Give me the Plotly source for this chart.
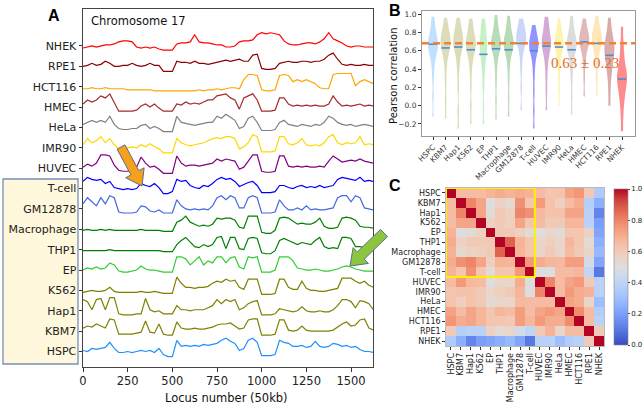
import math
import plotly.graph_objects as go

W, H = 644, 408

# ---------------- Panel A data (signal level 0..10) ----------------
LOCI = list(range(0, 1626, 25))
TRACK_NAMES = ["NHEK", "RPE1", "HCT116", "HMEC", "HeLa", "IMR90", "HUVEC", "T-cell",
               "GM12878", "Macrophage", "THP1", "EP", "K562", "Hap1", "KBM7", "HSPC"]
TRACK_COLORS = ["#ff0000", "#8b0000", "#ffa500", "#a52a2a", "#808080", "#ffd700", "#800080", "#0000ff",
                "#4169e1", "#008000", "#008000", "#32cd32", "#808000", "#808000", "#808000", "#1e90ff"]

NHEK = [1.5, 2, 2.5, 2, 2.5, 3, 3, 3.5, 4.5, 5,
        5, 4.5, 2, 1.5, 2, 1.5, 2, 1, 0.5, 0.5,
        0.5, 3.5, 4, 4, 4.5, 8, 4.5, 4, 4, 3.5,
        3, 3, 2, 2, 2.5, 4.5, 5, 5, 5.5, 8,
        9, 8.5, 9, 8.5, 8, 5, 3.5, 3, 3, 3.5,
        4, 4, 3.5, 4.5, 6, 9, 6, 5, 4, 2.5,
        2, 2.5, 2.5, 2, 2, 2]
RPE1 = [2.5, 3, 4, 3, 3.5, 5, 4, 2.5, 2.5, 3,
        3, 4, 3, 2.5, 3, 4, 3, 3, 0, 0,
        0, 5, 4.5, 4.5, 4, 5, 4, 4, 3.5, 4,
        4.5, 5, 5.5, 5, 5.5, 6, 5, 5, 8, 8.5,
        1.5, 1, 1, 1.5, 4, 4.5, 5, 4.5, 4.5, 5,
        5, 4.5, 5, 5, 6, 8, 9, 6, 3.5, 3,
        3.5, 3, 3, 3.5, 3, 3]
HCT116 = [1.5, 1.5, 2, 1.5, 1.5, 2, 1.5, 1.5, 1.5, 1.5,
          1, 1, 1, 1, 1, 1, 0.5, 0.5, 0.5, 0.5,
          0.5, 0.5, 0.5, 0.5, 0.5, 0.5, 1, 0.5, 1, 1,
          1.5, 1, 1.5, 2, 2, 1.5, 6, 8.5, 8.5, 8,
          1, 0.5, 0.5, 1, 8, 8.5, 8, 5, 6, 5,
          6, 5, 4, 2, 1.5, 1.5, 8.5, 9, 9, 9,
          9, 3, 5, 6, 5, 4]
HMEC = [4, 6, 5, 6, 8, 7, 9, 5, 0.5, 0.5,
        0.5, 0.5, 1, 3, 4, 2.5, 4, 2, 0.5, 0.5,
        0.5, 4, 3.5, 5, 4, 4.5, 4, 5, 6, 6,
        8, 8.5, 9, 7, 6, 1.5, 7, 8, 9, 6,
        0.5, 0.5, 0.5, 1, 7, 7, 4, 3, 3.5, 3,
        3.5, 3, 3.5, 3, 3, 4, 8, 5, 3, 3.5,
        3, 3.5, 4, 3, 3.5, 3]
HELA = [4, 5, 6, 5, 6, 5, 8, 4, 2, 1.5,
        1.5, 2, 2, 3.5, 4, 2, 3, 2, 0.5, 0.5,
        0.5, 8, 5, 4.5, 4, 3.5, 4, 4.5, 5, 5,
        8, 7, 9, 7.5, 6, 2, 3, 7, 8, 5,
        1, 1, 1, 1.5, 5, 6, 4, 3.5, 3, 4,
        3.5, 3, 4, 3.5, 5, 8, 7, 5, 4, 3.5,
        4, 3, 3.5, 4, 3.5, 3]
IMR90 = [4, 7, 5, 6, 8, 5, 7, 4, 2, 2,
         2.5, 3, 2.5, 4, 3, 4.5, 3, 2, 0, 0,
         0, 7, 5, 4, 3.5, 4, 4.5, 5, 6, 7,
         7.5, 7, 8, 8, 7, 2, 3, 5, 9, 8,
         0.5, 0.5, 0.5, 1, 8, 8, 4.5, 4, 5, 7,
         4, 3.5, 4, 3.5, 5, 8, 9, 5, 4, 5,
         4.5, 5, 8, 4, 4.5, 4]
HUVEC = [3, 4.5, 3.5, 5, 9, 9, 8.5, 4, 1.5, 1,
         1, 1.5, 3, 8, 5, 3, 3.5, 2, 0, 0,
         0, 8.5, 5, 3.5, 4, 4, 3.5, 4, 4.5, 5,
         7, 6, 7, 6.5, 6, 2, 3, 6, 9, 9,
         1, 0.5, 0.5, 1, 8.5, 8.5, 3.5, 3, 3.5, 3,
         3.5, 3, 3, 3.5, 3, 6, 8.5, 7, 5.5, 6,
         6.5, 6, 7, 6, 5.5, 5]
TCELL = [6, 8, 7, 6.5, 7, 5, 6, 3, 2.5, 2,
         2.5, 2, 2.5, 5, 4, 3.5, 5, 3, 0, 0,
         1, 7, 6, 6.5, 4, 3, 2.5, 4, 3.5, 5,
         7, 8, 7, 7.5, 6, 3.5, 4.5, 5.5, 6, 4,
         0.5, 0.5, 0.5, 1, 4, 4, 3, 2.5, 3.5, 4,
         3, 3.5, 3, 4, 3, 3.5, 4, 7, 8, 7.5,
         7, 6.5, 8, 6, 6.5, 6]
GM12878 = [5, 8, 6, 4, 8, 5, 9, 8, 1, 0.5,
           0.5, 0.5, 1, 4, 3.5, 1.5, 1, 2, 0.5, 0.5,
           0.5, 7, 4, 2.5, 2, 2.5, 2, 2.5, 2, 4,
           8, 9, 7, 9, 8, 3, 3, 8, 9, 8,
           0.5, 0.5, 0.5, 1, 7, 4, 2, 2, 3, 2,
           4, 2, 2.5, 2, 2, 2.5, 3, 8, 9, 9,
           6, 9, 8, 3, 2.5, 2]
MACROPHAGE = [2, 2.5, 2, 2, 2.5, 2, 2.5, 2, 2, 2,
              2, 2, 2, 2.5, 2, 2, 2, 2, 1.5, 1.5,
              1.5, 6, 7, 9, 6, 5, 4, 4.5, 4, 5,
              8, 7.5, 8, 8, 7, 3.5, 3, 9, 9, 9,
              1, 0.5, 0.5, 2, 8, 8.5, 8, 6.5, 5, 5.5,
              5, 5, 6, 8, 4, 3, 3, 3.5, 8, 8.5,
              8, 7, 4, 3.5, 3.5, 3]
THP1 = [2, 2, 2, 2, 2, 2, 2.5, 2, 2, 2,
        2, 2, 2, 2, 2, 2, 2, 2, 1.5, 1.5,
        1.5, 5, 7, 8.5, 6, 4, 3.5, 5, 4, 5,
        8.5, 9, 3, 8.5, 8.5, 3, 2.5, 8, 8.5, 8,
        1, 0.5, 0.5, 2, 7, 8, 7, 6, 5, 6,
        5.5, 5, 7, 8.5, 4, 3, 3.5, 3, 8.5, 8.5,
        8, 4, 4, 3.5, 3, 3]
EP = [2.5, 3.5, 3, 4, 3, 3.5, 6, 5, 2, 1.5,
      1.5, 2, 2.5, 4.5, 3, 2.5, 2.5, 2, 1.5, 1.5,
      1.5, 9, 9, 8, 5, 7, 9, 5, 7, 6,
      9, 9, 6, 8.5, 9, 4, 3, 9, 8.5, 9,
      1.5, 1.5, 1.5, 2.5, 9, 9, 9, 7, 3.5, 3,
      2.5, 2.5, 3, 2.5, 2, 2, 2.5, 3, 4, 4.5,
      4, 3, 2.5, 2, 2, 2]
K562 = [1.5, 2, 2.5, 2, 2, 2.5, 4, 2, 1.5, 1.5,
        1.5, 1.5, 1.5, 2, 1.5, 1.5, 2, 1.5, 1, 1,
        1, 9, 6, 4, 4, 3.5, 4, 4, 4.5, 6,
        7, 6.5, 8, 7, 7.5, 4, 3, 8, 8, 8,
        0.5, 0.5, 0.5, 1, 8, 8, 4, 3, 3, 7,
        3.5, 2.5, 2.5, 2, 2, 2.5, 3, 3.5, 8.5, 8.5,
        8.5, 7, 6, 7, 5, 4]
HAP1 = [8, 7, 3, 8, 8.5, 3, 9, 9, 1, 0.5,
        0.5, 0.5, 1, 1, 8.5, 3, 2, 2.5, 1, 1,
        1, 5, 3, 3, 2.5, 3, 3, 3, 4, 5,
        8, 6, 8, 7, 8, 3, 4, 6, 7, 7.5,
        0.5, 0.5, 0.5, 1, 3.5, 3, 2.5, 2, 2.5, 4.5,
        2.5, 2, 2, 2.5, 2, 2, 3, 5, 8, 8,
        7, 4, 7.5, 7, 6, 3]
KBM7 = [4, 5, 4.5, 6, 5, 4, 8.5, 8, 1, 1,
        1, 1, 1.5, 2, 7.5, 2, 1.5, 6, 1, 0.5,
        0.5, 7, 4, 3.5, 3.5, 4, 3.5, 3.5, 4, 4.5,
        5.5, 6, 6, 6.5, 5, 3.5, 4, 8, 8.5, 8.5,
        0.5, 0.5, 0.5, 1, 8, 8, 3, 2.5, 3, 5,
        3, 2.5, 2.5, 2.5, 2.5, 2.5, 3, 4.5, 6, 7,
        5, 5.5, 8, 8.5, 4, 3]
HSPC = [3, 2.5, 4, 3.5, 4, 4.5, 7, 4, 2, 2,
        2.5, 2, 2.5, 3, 2.5, 3, 2, 4, 1, 0,
        0, 8, 5, 5.5, 5, 5.5, 5, 6, 5.5, 6,
        6.5, 8, 9, 7.5, 6.5, 3, 4, 8, 9, 7,
        0.5, 0.5, 0.5, 1, 8, 7, 6.5, 5, 5, 5.5,
        4.5, 5, 7.5, 5, 4.5, 5, 6.5, 6, 5, 5.5,
        4.5, 5, 3.5, 2.5, 2.5, 2]
TRACKS = [NHEK, RPE1, HCT116, HMEC, HELA, IMR90, HUVEC, TCELL,
          GM12878, MACROPHAGE, THP1, EP, K562, HAP1, KBM7, HSPC]
X_TICKS_A = [0, 250, 500, 750, 1000, 1250, 1500]

# ---------------- Panel B data ----------------
CELLS = ["HSPC", "KBM7", "Hap1", "K562", "EP", "THP1", "Macrophage", "GM12878", "T-cell",
         "HUVEC", "IMR90", "HeLa", "HMEC", "HCT116", "RPE1", "NHEK"]
V_HSPC = [-0.12, 0.1, 0.3, 0.42, 0.5, 0.55, 0.58, 0.61, 0.63, 0.65, 0.67, 0.69, 0.71, 0.73, 0.76, 0.8, 0.85, 0.91, 0.97]
V_KBM7 = [-0.14, 0.05, 0.25, 0.4, 0.5, 0.56, 0.6, 0.63, 0.66, 0.68, 0.7, 0.72, 0.74, 0.77, 0.8, 0.84, 0.89, 0.96]
V_HAP1 = [-0.25, -0.05, 0.2, 0.38, 0.48, 0.55, 0.6, 0.63, 0.66, 0.68, 0.7, 0.72, 0.75, 0.78, 0.81, 0.85, 0.9, 0.96]
V_K562 = [-0.2, 0.0, 0.22, 0.38, 0.48, 0.54, 0.58, 0.61, 0.64, 0.66, 0.68, 0.7, 0.72, 0.75, 0.79, 0.84, 0.89, 0.95]
V_EP = [-0.2, 0.0, 0.2, 0.32, 0.42, 0.48, 0.53, 0.57, 0.6, 0.63, 0.66, 0.69, 0.72, 0.76, 0.8, 0.85, 0.9, 0.95]
V_THP1 = [-0.15, 0.05, 0.25, 0.4, 0.5, 0.56, 0.6, 0.63, 0.65, 0.67, 0.69, 0.71, 0.73, 0.76, 0.8, 0.85, 0.91, 0.99]
V_MACRO = [-0.12, 0.08, 0.27, 0.41, 0.5, 0.56, 0.6, 0.63, 0.65, 0.67, 0.69, 0.71, 0.73, 0.76, 0.8, 0.85, 0.91, 0.98]
V_GM = [-0.05, 0.2, 0.4, 0.52, 0.6, 0.65, 0.68, 0.7, 0.72, 0.74, 0.76, 0.78, 0.8, 0.83, 0.87, 0.91, 0.95]
V_TCELL = [-0.25, -0.05, 0.15, 0.32, 0.44, 0.52, 0.57, 0.6, 0.63, 0.65, 0.67, 0.69, 0.71, 0.74, 0.78, 0.83, 0.88]
V_HUVEC = [-0.05, 0.15, 0.3, 0.42, 0.5, 0.56, 0.6, 0.63, 0.66, 0.68, 0.7, 0.72, 0.75, 0.78, 0.82, 0.87, 0.92, 0.97]
V_IMR90 = [0.0, 0.2, 0.35, 0.45, 0.52, 0.57, 0.61, 0.64, 0.66, 0.68, 0.7, 0.72, 0.75, 0.78, 0.82, 0.87, 0.95]
V_HELA = [-0.1, 0.1, 0.28, 0.4, 0.48, 0.54, 0.58, 0.61, 0.64, 0.66, 0.68, 0.7, 0.72, 0.75, 0.79, 0.84, 0.9, 0.98]
V_HMEC = [0.1, 0.3, 0.45, 0.54, 0.6, 0.64, 0.67, 0.69, 0.71, 0.73, 0.75, 0.77, 0.8, 0.84, 0.89, 0.95]
V_HCT116 = [0.1, 0.3, 0.45, 0.55, 0.6, 0.64, 0.67, 0.7, 0.72, 0.74, 0.76, 0.78, 0.81, 0.85, 0.9, 0.98]
V_RPE1 = [0.0, 0.15, 0.28, 0.36, 0.42, 0.47, 0.51, 0.55, 0.58, 0.61, 0.64, 0.67, 0.7, 0.74, 0.79, 0.86, 0.96]
V_NHEK = [-0.28, -0.12, 0.0, 0.08, 0.14, 0.19, 0.23, 0.27, 0.3, 0.33, 0.36, 0.4, 0.45, 0.52, 0.6, 0.7, 0.86]
VIOLINS = [V_HSPC, V_KBM7, V_HAP1, V_K562, V_EP, V_THP1, V_MACRO, V_GM, V_TCELL,
           V_HUVEC, V_IMR90, V_HELA, V_HMEC, V_HCT116, V_RPE1, V_NHEK]
MEDIANS = [0.67, 0.63, 0.64, 0.61, 0.56, 0.62, 0.61, 0.68, 0.60, 0.65, 0.64, 0.61, 0.695, 0.68, 0.55, 0.29]
MEAN_LINE = 0.68
SUMMARY = "0.63 ± 0.23"
Y_TICKS_B = [-0.2, 0.0, 0.2, 0.4, 0.6, 0.8, 1.0]

VIOLIN_RGB = [(30, 144, 255), (128, 128, 0), (128, 128, 0), (128, 128, 0), (50, 205, 50), (0, 128, 0),
              (0, 128, 0), (65, 105, 225), (0, 0, 255), (128, 0, 128), (255, 215, 0), (128, 128, 128),
              (165, 42, 42), (255, 165, 0), (139, 0, 0), (255, 0, 0)]
VIOLIN_ALPHA = [0.28, 0.28, 0.28, 0.28, 0.28, 0.28, 0.28, 0.28, 0.42, 0.33, 0.33, 0.28, 0.33, 0.28, 0.33, 0.45]
VIOLIN_W = [0.8, 0.8, 0.8, 0.8, 0.6, 0.8, 0.8, 0.8, 0.75, 0.75, 0.7, 0.8, 0.8, 0.8, 0.8, 0.8]

# ---------------- Panel C data ----------------
CORR = [
    [1.00, 0.65, 0.65, 0.65, 0.68, 0.70, 0.68, 0.70, 0.68, 0.65, 0.62, 0.63, 0.73, 0.76, 0.60, 0.35],
    [0.65, 1.00, 0.80, 0.72, 0.50, 0.57, 0.53, 0.77, 0.62, 0.75, 0.63, 0.58, 0.65, 0.70, 0.37, 0.25],
    [0.65, 0.80, 1.00, 0.72, 0.52, 0.60, 0.57, 0.80, 0.77, 0.66, 0.63, 0.63, 0.72, 0.72, 0.38, 0.13],
    [0.65, 0.72, 0.72, 1.00, 0.57, 0.60, 0.58, 0.72, 0.62, 0.65, 0.60, 0.60, 0.67, 0.67, 0.38, 0.20],
    [0.68, 0.50, 0.52, 0.57, 1.00, 0.60, 0.60, 0.58, 0.52, 0.50, 0.55, 0.52, 0.62, 0.62, 0.57, 0.22],
    [0.70, 0.57, 0.60, 0.60, 0.60, 1.00, 0.87, 0.68, 0.62, 0.55, 0.58, 0.55, 0.67, 0.62, 0.52, 0.25],
    [0.68, 0.53, 0.57, 0.58, 0.60, 0.87, 1.00, 0.67, 0.62, 0.55, 0.60, 0.55, 0.65, 0.60, 0.55, 0.28],
    [0.70, 0.77, 0.80, 0.72, 0.58, 0.68, 0.67, 1.00, 0.75, 0.70, 0.67, 0.66, 0.74, 0.74, 0.47, 0.22],
    [0.68, 0.62, 0.77, 0.62, 0.52, 0.62, 0.62, 0.75, 1.00, 0.50, 0.50, 0.65, 0.65, 0.67, 0.40, 0.10],
    [0.65, 0.75, 0.66, 0.65, 0.50, 0.55, 0.55, 0.70, 0.50, 1.00, 0.80, 0.65, 0.72, 0.75, 0.60, 0.38],
    [0.62, 0.63, 0.63, 0.60, 0.55, 0.58, 0.60, 0.67, 0.50, 0.80, 1.00, 0.65, 0.75, 0.70, 0.68, 0.38],
    [0.63, 0.58, 0.63, 0.60, 0.52, 0.55, 0.55, 0.66, 0.65, 0.65, 0.65, 1.00, 0.72, 0.70, 0.55, 0.30],
    [0.73, 0.65, 0.72, 0.67, 0.62, 0.67, 0.65, 0.74, 0.65, 0.72, 0.75, 0.72, 1.00, 0.78, 0.65, 0.36],
    [0.76, 0.70, 0.72, 0.67, 0.62, 0.62, 0.60, 0.74, 0.67, 0.75, 0.70, 0.70, 0.78, 1.00, 0.65, 0.38],
    [0.60, 0.37, 0.38, 0.38, 0.57, 0.52, 0.55, 0.47, 0.40, 0.60, 0.68, 0.55, 0.65, 0.65, 1.00, 0.60],
    [0.35, 0.25, 0.13, 0.20, 0.22, 0.25, 0.28, 0.22, 0.10, 0.38, 0.38, 0.30, 0.36, 0.38, 0.60, 1.00],
]
CB_TICKS = [0.0, 0.2, 0.4, 0.6, 0.8, 1.0]

COOLWARM = [(59, 76, 192), (77, 104, 215), (98, 130, 234), (119, 154, 247), (141, 176, 254),
            (163, 194, 255), (184, 208, 249), (204, 217, 238), (221, 221, 221), (236, 211, 197),
            (245, 196, 173), (247, 177, 148), (244, 154, 123), (236, 127, 99), (222, 96, 77),
            (203, 62, 56), (180, 4, 38)]
colorscale = [[i / (len(COOLWARM) - 1), "rgb(%d,%d,%d)" % c] for i, c in enumerate(COOLWARM)]


def PX(x):
    return x / W


def PY(y):
    return 1 - y / H


FONT = "DejaVu Sans"
fig = go.Figure()

# Panel A traces
n = len(TRACKS)
for k, (vals, col) in enumerate(zip(TRACKS, TRACK_COLORS)):
    off = n - 1 - k
    fig.add_trace(go.Scatter(x=LOCI, y=[off + (v - 2.5) * 0.1 for v in vals], mode="lines",
                             line=dict(color=col, width=1.2), showlegend=False,
                             xaxis="x", yaxis="y", hoverinfo="skip"))

# Panel B violins
for i, (samp, rgb, a, w) in enumerate(zip(VIOLINS, VIOLIN_RGB, VIOLIN_ALPHA, VIOLIN_W)):
    fig.add_trace(go.Violin(y=samp, x0=i, name=CELLS[i], width=w, scalemode="width",
                            fillcolor="rgba(%d,%d,%d,%.2f)" % (rgb + (a,)),
                            line=dict(width=0, color="rgba(0,0,0,0)"), points=False,
                            spanmode="hard", bandwidth=0.07, showlegend=False,
                            xaxis="x2", yaxis="y2", hoverinfo="skip"))
fig.add_trace(go.Scatter(x=list(range(len(CELLS))), y=MEDIANS, mode="markers",
                         marker=dict(symbol="line-ew", size=6, line=dict(width=1.6, color="#4a8fd0")),
                         showlegend=False, xaxis="x2", yaxis="y2", hoverinfo="skip"))

# Panel C heatmap
fig.add_trace(go.Heatmap(z=CORR, x=list(range(16)), y=list(range(16)), colorscale=colorscale,
                         zmin=0, zmax=1, xaxis="x3", yaxis="y3", hoverinfo="skip",
                         colorbar=dict(x=PX(614), xanchor="left", y=PY(267), yanchor="middle",
                                       len=156, lenmode="pixels", thickness=14, thicknessmode="pixels",
                                       xpad=0, ypad=0, tickvals=CB_TICKS, tickformat=".1f",
                                       ticks="outside", ticklen=2, tickfont=dict(size=7, color="#222"),
                                       outlinewidth=0.6, outlinecolor="#888")))

axis_common = dict(showgrid=False, zeroline=False, showline=True, mirror=True, ticks="outside",
                   tickcolor="#333", tickwidth=1)

shapes = []
# cream highlight box behind labels
shapes.append(dict(type="rect", xref="paper", yref="paper", x0=PX(3), x1=PX(78), y0=PY(364), y1=PY(179),
                   fillcolor="#FFF8DC", line=dict(color="#7590b8", width=1.3), layer="below"))


def arrow(tail, tip, sw, hw, hl, fill):
    dx, dy = tip[0] - tail[0], tip[1] - tail[1]
    L = math.hypot(dx, dy)
    ux, uy = dx / L, dy / L
    nx, ny = -uy, ux
    bx, by = tip[0] - ux * hl, tip[1] - uy * hl
    pts = [(tail[0] + nx * sw / 2, tail[1] + ny * sw / 2), (bx + nx * sw / 2, by + ny * sw / 2),
           (bx + nx * hw / 2, by + ny * hw / 2), tip, (bx - nx * hw / 2, by - ny * hw / 2),
           (bx - nx * sw / 2, by - ny * sw / 2), (tail[0] - nx * sw / 2, tail[1] - ny * sw / 2)]
    path = "M " + " L ".join("%.5f,%.5f" % (PX(p[0]), PY(p[1])) for p in pts) + " Z"
    return dict(type="path", xref="paper", yref="paper", path=path, fillcolor=fill,
                line=dict(color="#5b6f87", width=1), layer="above")


shapes.append(arrow((121, 147), (142, 186), 9, 21, 15, "#F5A01E"))
shapes.append(arrow((384, 233), (350, 266), 10, 22, 15, "#8CC63F"))
# mean dashed line on panel B
shapes.append(dict(type="line", xref="x2 domain", yref="y2", x0=0, x1=1, y0=MEAN_LINE, y1=MEAN_LINE,
                   line=dict(color="#EE8434", width=2.5, dash="7px,4px"), layer="above"))
# yellow box on heatmap
shapes.append(dict(type="rect", xref="x3", yref="y3", x0=-0.5, x1=8.5, y0=-0.5, y1=8.5,
                   line=dict(color="#FFF200", width=2), fillcolor="rgba(0,0,0,0)", layer="above"))

annotations = [
    dict(text="<b>A</b>", x=PX(54.5), y=PY(15.5), xref="paper", yref="paper", showarrow=False,
         font=dict(family="Liberation Sans", size=16, color="#000"), xanchor="center", yanchor="middle"),
    dict(text="<b>B</b>", x=PX(395.5), y=PY(10), xref="paper", yref="paper", showarrow=False,
         font=dict(family="Liberation Sans", size=16, color="#000"), xanchor="center", yanchor="middle"),
    dict(text="<b>C</b>", x=PX(395.5), y=PY(185.5), xref="paper", yref="paper", showarrow=False,
         font=dict(family="Liberation Sans", size=16, color="#000"), xanchor="center", yanchor="middle"),
    dict(text="Chromosome 17", x=PX(89), y=PY(21), xref="paper", yref="paper", showarrow=False,
         font=dict(size=11.5, color="#111"), xanchor="left", yanchor="middle"),
    dict(text="Locus number (50kb)", x=PX(226), y=PY(397.5), xref="paper", yref="paper", showarrow=False,
         font=dict(size=11.5, color="#111"), xanchor="center", yanchor="middle"),
    dict(text="Pearson correlation", x=PX(393), y=PY(76), xref="paper", yref="paper", showarrow=False,
         textangle=-90, font=dict(size=10, color="#111"), xanchor="center", yanchor="middle"),
    dict(text=SUMMARY, x=12.04, y=0.465, xref="x2", yref="y2", showarrow=False,
         font=dict(family="Liberation Serif", size=15, color="#DD6E2C"), xanchor="center", yanchor="middle"),
]

fig.update_layout(
    width=W, height=H, template="none",
    margin=dict(l=0, r=0, t=0, b=0, autoexpand=False),
    paper_bgcolor="white", plot_bgcolor="white",
    font=dict(family=FONT, color="#222"),
    violinmode="overlay",
    xaxis=dict(domain=[PX(83), PX(373)], range=[0, 1623], tickvals=X_TICKS_A, ticklen=3.5,
               linecolor="#444", linewidth=1, tickfont=dict(size=11.5, color="#222"),
               anchor="y", automargin=False, **axis_common),
    yaxis=dict(domain=[PY(367), PY(9)], range=[-0.761, 16.816], tickvals=list(range(n)),
               ticktext=TRACK_NAMES[::-1], ticklen=3.5, linecolor="#444", linewidth=1,
               tickfont=dict(size=11, color="#222"), anchor="x", automargin=False, **axis_common),
    xaxis2=dict(domain=[PX(422), PX(635)], range=[-0.873, 16.03], type="linear",
                tickvals=list(range(len(CELLS))), ticktext=CELLS, tickangle=-45, ticklen=3,
                linecolor="#999", linewidth=1, tickfont=dict(size=7.5, color="#333"),
                anchor="y2", automargin=False, **axis_common),
    yaxis2=dict(domain=[PY(136), PY(11)], range=[-0.331, 1.033], tickvals=Y_TICKS_B, tickformat=".1f",
                ticklen=3, linecolor="#999", linewidth=1, tickfont=dict(size=7.5, color="#333"),
                anchor="x2", automargin=False, **axis_common),
    xaxis3=dict(domain=[PX(446), PX(604)], range=[-0.5, 15.5], tickvals=list(range(16)), ticktext=CELLS,
                tickangle=-90, ticklen=3, linecolor="#bbb", linewidth=0.6,
                tickfont=dict(size=8, color="#222"), anchor="y3", automargin=False, **axis_common),
    yaxis3=dict(domain=[PY(346), PY(188)], range=[15.5, -0.5], tickvals=list(range(16)), ticktext=CELLS,
                ticklen=3, linecolor="#bbb", linewidth=0.6,
                tickfont=dict(size=8, color="#222"), anchor="x3", automargin=False, **axis_common),
    shapes=shapes,
    annotations=annotations,
)

fig.write_html("out.html", config={"displayModeBar": False},
               post_script="document.body.style.margin='0px';")
